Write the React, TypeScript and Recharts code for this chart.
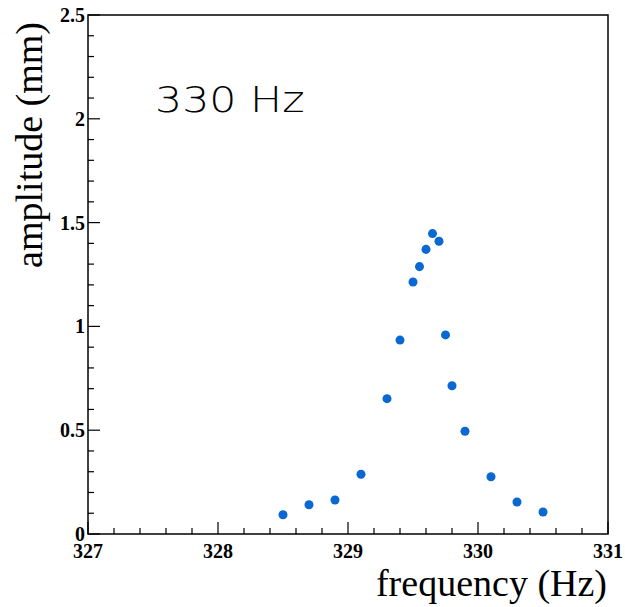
import React from "react";
import { ReferenceArea, Scatter, ScatterChart, XAxis, YAxis, ZAxis } from "recharts";

// Resonance scan around 330 Hz
const freq = [328.5, 328.7, 328.9, 329.1, 329.3, 329.4, 329.5, 329.55, 329.6, 329.65, 329.7, 329.75, 329.8, 329.9, 330.1, 330.3, 330.5];
const amplitude = [0.093, 0.141, 0.164, 0.288, 0.652, 0.934, 1.214, 1.288, 1.371, 1.447, 1.41, 0.959, 0.714, 0.495, 0.276, 0.154, 0.106];

const xTicks = [327, 327.2, 327.4, 327.6, 327.8, 328, 328.2, 328.4, 328.6, 328.8, 329, 329.2, 329.4, 329.6, 329.8, 330, 330.2, 330.4, 330.6, 330.8, 331];
const yTicks = [0, 0.1, 0.2, 0.3, 0.4, 0.5, 0.6, 0.7, 0.8, 0.9, 1, 1.1, 1.2, 1.3, 1.4, 1.5, 1.6, 1.7, 1.8, 1.9, 2, 2.1, 2.2, 2.3, 2.4, 2.5];
const xLabels = [327, 328, 329, 330, 331];
const yLabels = [0, 0.5, 1, 1.5, 2, 2.5];

const data = freq.map((f, i) => ({ f, a: amplitude[i] }));

const W = 625;
const H = 607;
const M = { top: 15, right: 17, bottom: 72, left: 87 };
const SERIF = "'Liberation Serif', 'Times New Roman', serif";
const DOT = "#0a68d2";

const isMajor = (v: number, labels: number[]) => labels.some((l) => Math.abs(l - v) < 1e-6);

function XTick(props: any) {
  const { x, y, payload } = props;
  const major = isMajor(payload.value, xLabels);
  return (
    <g>
      <line x1={x} x2={x} y1={y} y2={y - (major ? 12 : 6)} stroke="#000" strokeWidth={1.2} />
      {major && (
        <text x={x} y={y + 24} textAnchor="middle" fontFamily={SERIF} fontWeight="bold" fontSize={20} fill="#000">
          {payload.value}
        </text>
      )}
    </g>
  );
}

function YTick(props: any) {
  const { x, y, payload } = props;
  const major = isMajor(payload.value, yLabels);
  return (
    <g>
      <line x1={x} x2={x + (major ? 12 : 6)} y1={y} y2={y} stroke="#000" strokeWidth={1.2} />
      {major && (
        <text x={x - 3} y={y + 7} textAnchor="end" fontFamily={SERIF} fontWeight="bold" fontSize={20} fill="#000">
          {payload.value}
        </text>
      )}
    </g>
  );
}

export default function App() {
  return (
    <div style={{ position: "absolute", left: 0, top: 0, width: W, height: H, background: "#fff" }}>
      <ScatterChart width={W} height={H} margin={M}>
        <XAxis
          type="number"
          dataKey="f"
          domain={[327, 331]}
          ticks={xTicks}
          interval={0}
          height={1}
          tickSize={0}
          tickMargin={0}
          axisLine={false}
          tickLine={false}
          tick={(p: any) => <XTick {...p} />}
          allowDataOverflow
        />
        <YAxis
          type="number"
          dataKey="a"
          domain={[0, 2.5]}
          ticks={yTicks}
          interval={0}
          width={1}
          tickSize={0}
          tickMargin={0}
          axisLine={false}
          tickLine={false}
          tick={(p: any) => <YTick {...p} />}
          allowDataOverflow
        />
        <ZAxis range={[50, 50]} />
        <ReferenceArea x1={327} x2={331} y1={0} y2={2.5} fill="none" stroke="#000" strokeWidth={1.5} ifOverflow="visible" />
        <Scatter data={data} fill={DOT} shape="circle" isAnimationActive={false} />
      </ScatterChart>
      <svg width={W} height={H} style={{ position: "absolute", left: 0, top: 0, pointerEvents: "none" }}>
        <text
          x={0}
          y={0}
          transform="translate(155, 112) scale(1.22, 1)"
          fontFamily="'DejaVu Sans', sans-serif"
          fontWeight={200}
          fontSize={35}
          fill="#000"
        >
          330 Hz
        </text>
        <text x={607} y={596} textAnchor="end" fontFamily={SERIF} fontSize={38} fill="#000">
          frequency (Hz)
        </text>
        <text
          x={0}
          y={0}
          transform="translate(42, 22) rotate(-90)"
          textAnchor="end"
          fontFamily={SERIF}
          fontSize={38}
          fill="#000"
        >
          amplitude (mm)
        </text>
      </svg>
    </div>
  );
}
